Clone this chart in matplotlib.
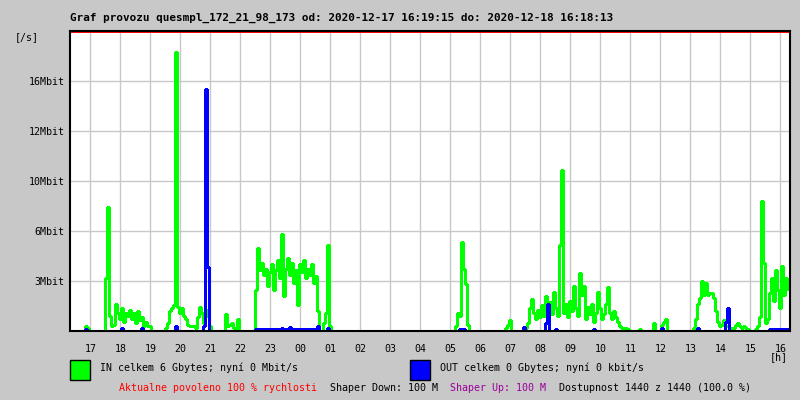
import matplotlib
matplotlib.use("Agg")
import matplotlib.pyplot as plt
from matplotlib.patches import Rectangle
import numpy as np

# --- data: one sample every 4 minutes, starting 2020-12-17 16:19:15 ---
start_hour = 16 + 19/60 + 15/3600
step_min = 4

# IN traffic [Mbit/s]
in_mbit = ([0]*8 + [0.3, 0.2] + [0]*8 +
           [3.5, 8.2, 1.0, 0.3, 0.4, 1.8, 1.2, 0.8, 1.5, 0.6, 1.2, 1.0, 1.4, 0.8, 1.2, 0.5,
            1.3, 0.7, 0.9, 0.3, 0.6, 0.3, 0.3] +
           [0]*7 +
           [0.2, 0.5, 1.3, 1.5, 1.7, 18.4, 1.6, 1.2, 1.5, 1.0, 0.8, 0.4, 0.3, 0.3, 0.3, 0.2,
            0.9, 1.6, 1.2, 0.5, 1.4, 1.0, 0.3] +
           [0]*7 +
           [1.1, 0.3, 0.4, 0.5, 0.2, 0, 0.8] +
           [0]*8 +
           [2.7, 5.5, 4.0, 4.5, 3.7, 4.1, 3.0, 3.9, 4.4, 2.7, 4.0, 4.7, 3.5, 6.4, 2.3, 4.1,
            4.8, 3.7, 4.5, 3.2, 4.0, 1.7, 4.4, 3.9, 4.7, 3.5, 4.1, 3.7, 4.4, 3.2, 3.6, 1.3] +
           [0, 0, 0.5, 1.2, 5.7, 0.3] +
           [0]*62 +
           [0.3, 1.2, 1.0, 5.9, 4.1, 3.1, 0.4] +
           [0]*18 +
           [0.2, 0.4, 0.7] +
           [0]*7 +
           [0.2, 0.5, 1.5, 2.1, 1.2, 0.8, 1.4, 0.9, 1.7, 1.0, 2.3, 1.3, 1.9, 1.1, 2.6, 1.5,
            1.0, 5.7, 10.6, 1.2, 1.8, 0.9, 2.0, 1.3, 3.0, 1.5, 1.0, 3.8, 2.4, 3.0, 0.8, 1.6,
            1.1, 1.8, 0.6, 1.2, 2.6, 1.5, 0.8, 1.1, 1.8, 2.9, 1.2, 0.8, 1.3, 0.9, 0.6] +
           [0.3, 0.2, 0.2, 0.2, 0.1] +
           [0]*5 + [0.1] + [0]*6 + [0.5] + [0]*3 +
           [0.4, 0.6, 0.8] +
           [0]*13 +
           [0.2, 0.8, 1.8, 2.2, 3.3, 2.4, 3.2, 2.4, 2.5, 2.5, 2.2, 1.3, 0.6, 0.3] +
           [0.4, 0.7, 0.3, 0.3, 0.2, 0.2, 0.2, 0.4, 0.5, 0.3, 0.2, 0.3, 0.2, 0.1] +
           [0]*3 +
           [0.1, 0.3, 0.9, 8.6, 4.5, 0.5, 0.8, 2.5, 3.5, 2.0, 4.0, 2.7, 1.5, 4.3, 2.4, 3.5, 2.8])

# OUT traffic [Mbit/s]
out_mbit = ([0]*8 + [0.15] + [0]*17 + [0.2] + [0]*9 + [0.2] + [0]*16 + [0.35] + [0]*13 +
            [0.3, 16.0, 4.2] + [0]*23 +
            [0.13, 0.13, 0.12, 0.13, 0.13, 0.13, 0.12, 0.13, 0.13, 0.13, 0.13, 0.12, 0.13, 0.2, 0.13, 0.13,
             0.13, 0.25, 0.13, 0.13, 0.12, 0.13, 0.13, 0.13, 0.13, 0.12, 0.13, 0.13, 0.13, 0.13, 0.15, 0.3] +
            [0]*4 + [0.2] + [0]*65 + [0.15, 0.15, 0.15] + [0]*29 + [0.25] + [0]*10 +
            [0.5, 1.8] + [0]*3 + [0.15] + [0]*18 + [0.15] + [0]*33 + [0.2] + [0]*17 +
            [0.2] + [0]*13 + [0.6, 1.5] + [0]*20 +
            [0.15, 0.15, 0.12, 0.15, 0.15, 0.15, 0.12, 0.15, 0.15, 0.15])

hour_ticks = list(range(17, 41))
hour_labels = ["%02d" % (h % 24) for h in hour_ticks]
y_ticks = [3.3, 6.6, 9.9, 13.2, 16.5]
y_labels = ["3Mbit", "6Mbit", "10Mbit", "12Mbit", "16Mbit"]
y_max = 19.8

title = "Graf provozu quesmpl_172_21_98_173 od: 2020-12-17 16:19:15 do: 2020-12-18 16:18:13"

bg = "#c8c8c8"
mono = "DejaVu Sans Mono"
fs = 7.2

t = start_hour + np.arange(len(in_mbit)) * step_min / 60.0

fig = plt.figure(figsize=(8, 4), dpi=100, facecolor=bg)
ax = fig.add_axes([70/800, 1 - 331/400, 720/800, 300/400])
ax.set_facecolor("white")

ax.plot(t, in_mbit, color="#00ff00", lw=0.75, drawstyle="steps-mid",
        antialiased=False, zorder=3)
ax.plot(t, out_mbit, color="#0000ff", lw=0.75, drawstyle="steps-mid",
        antialiased=False, zorder=4)
# red limit line just under the top border
ax.axhline(y_max * 0.996, color="#ff0000", lw=0.7, zorder=5)

ax.set_xlim(start_hour, start_hour + 24)
ax.set_ylim(0, y_max)
ax.set_xticks(hour_ticks)
ax.set_xticklabels(hour_labels, fontfamily=mono, fontsize=fs)
ax.set_yticks(y_ticks)
ax.set_yticklabels(y_labels, fontfamily=mono, fontsize=fs)
ax.tick_params(axis="both", length=0)
ax.tick_params(axis="x", pad=9)
ax.tick_params(axis="y", pad=4)
ax.grid(True, color="#c8c8c8", lw=1, zorder=1)
ax.set_axisbelow(True)

for s in ["left", "bottom", "right", "top"]:
    ax.spines[s].set_color("black")
    ax.spines[s].set_linewidth(1.5)
    ax.spines[s].set_zorder(6)

fig.text(70/800, 1 - 18/400, title, fontfamily=mono, fontweight="bold",
         fontsize=7.9, va="center", ha="left")
fig.text(15/800, 1 - 37/400, "[/s]", fontfamily=mono, fontsize=fs, va="center")
fig.text(770/800, 1 - 357/400, "[h]", fontfamily=mono, fontsize=fs, va="center")

# legend
fig.add_artist(Rectangle((70/800, 1 - 380/400), 20/800, 20/400, transform=fig.transFigure,
                         facecolor="#00ff00", edgecolor="black", lw=1))
fig.add_artist(Rectangle((410/800, 1 - 380/400), 20/800, 20/400, transform=fig.transFigure,
                         facecolor="#0000ff", edgecolor="black", lw=1))
fig.text(100/800, 1 - 368/400, "IN celkem 6 Gbytes; nyní 0 Mbit/s",
         fontfamily=mono, fontsize=fs, va="center")
fig.text(440/800, 1 - 368/400, "OUT celkem 0 Gbytes; nyní 0 kbit/s",
         fontfamily=mono, fontsize=fs, va="center")

fig.text(119/800, 1 - 388/400, "Aktualne povoleno 100 % rychlosti",
         fontfamily=mono, fontsize=fs, va="center", color="#ff0000")
fig.text(330/800, 1 - 388/400, "Shaper Down: 100 M",
         fontfamily=mono, fontsize=fs, va="center", color="black")
fig.text(450/800, 1 - 388/400, "Shaper Up: 100 M",
         fontfamily=mono, fontsize=fs, va="center", color="#990099")
fig.text(559/800, 1 - 388/400, "Dostupnost 1440 z 1440 (100.0 %)",
         fontfamily=mono, fontsize=fs, va="center", color="black")

fig.savefig("out.png", dpi=100, facecolor=bg)
